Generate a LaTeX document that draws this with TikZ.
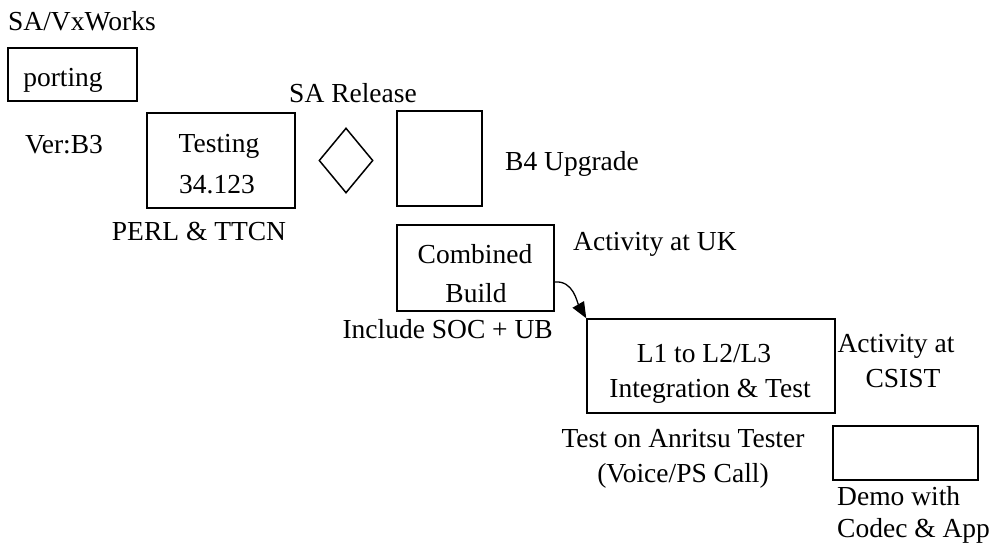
\documentclass[tikz,border=0pt]{standalone}
\usepackage{fontspec}
\setmainfont{Liberation Serif}
\usetikzlibrary{shapes.geometric,arrows.meta}
\begin{document}
\begin{tikzpicture}[x=1pt,y=-1pt,
  box/.style={draw,line width=1.5pt,rectangle,inner sep=0pt},
  gem/.style={draw,line width=1.5pt,diamond,inner sep=0pt},
  lbl/.style={inner sep=0pt,anchor=base,font=\fontsize{27.5}{31}\selectfont},
  lblw/.style={lbl,anchor=base west},
  lble/.style={lbl,anchor=base east},
  flow/.style={line width=1.3pt,-{Triangle[length=16pt,width=13pt]}}]
\useasboundingbox (0,0) rectangle (996,552);

% boxes
\node[box,minimum width=129pt,minimum height=53pt] (port) at (72.5,74.5) {};
\node[box,minimum width=148pt,minimum height=95pt] (test) at (221,160.5) {};
\node[gem,minimum width=54pt,minimum height=65pt] (rel) at (346,160.5) {};
\node[box,minimum width=85pt,minimum height=95pt] (upg) at (439.5,158.5) {};
\node[box,minimum width=157pt,minimum height=86pt] (comb) at (475.5,268) {};
\node[box,minimum width=248pt,minimum height=94pt] (integ) at (711,366) {};
\node[box,minimum width=145pt,minimum height=54pt] (demo) at (905.5,453) {};

% texts
\node[lblw] (tvx) at (8,30) {SA/VxWorks};
\node[lbl] (tport) at (63,86) {porting};
\node[lbl] (tver) at (64,153) {Ver:B3};
\node[lbl] (ttest1) at (219,152) {Testing};
\node[lbl] (ttest2) at (217,193) {34.123};
\node[lbl] (trel) at (353,102) {SA Release};
\node[lbl] (tperl) at (199,240) {PERL \& TTCN};
\node[lblw] (tupg) at (505,170) {B4 Upgrade};
\node[lbl] (tcomb1) at (475,263) {Combined};
\node[lbl] (tcomb2) at (476,302) {Build};
\node[lblw] (tuk) at (573,250) {Activity at UK};
\node[lble] (tsoc) at (553,338) {Include SOC + UB};
\node[lbl] (tint1) at (704,362) {L1 to L2/L3};
\node[lbl] (tint2) at (710,397) {Integration \& Test};
\node[lbl] (tcs1) at (896,352) {Activity at};
\node[lbl] (tcs2) at (903,387) {CSIST};
\node[lbl] (tanr1) at (683,447) {Test on Anritsu Tester};
\node[lbl] (tanr2) at (683,482) {(Voice/PS Call)};
\node[lblw] (tdemo1) at (837,505) {Demo with};
\node[lblw] (tdemo2) at (837,537) {Codec \& App};

% hand-over from the combined build to integration
\draw[flow] (comb.-10) to[out=5,in=120] (integ.north west);
\end{tikzpicture}
\end{document}
